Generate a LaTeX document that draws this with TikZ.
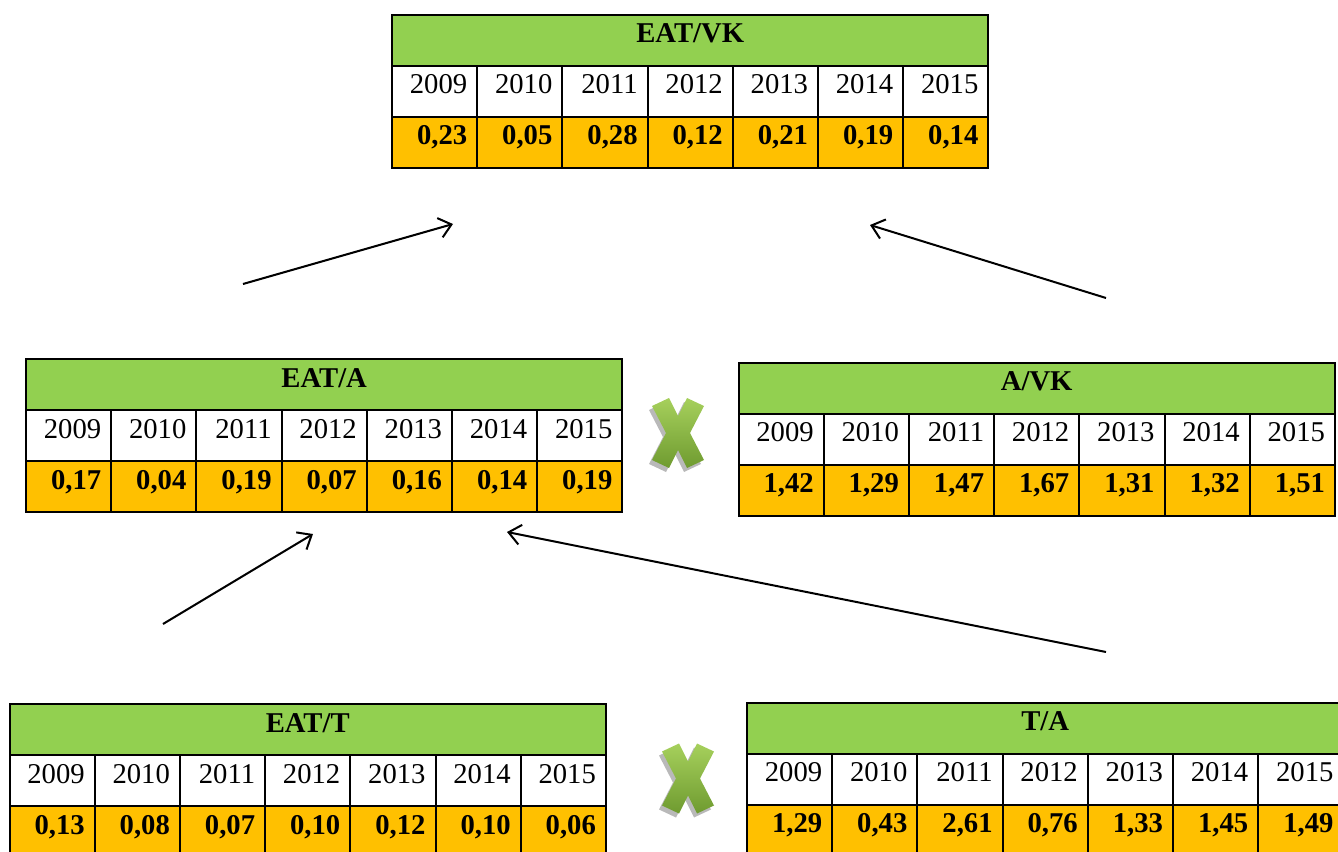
\documentclass[tikz,border=0pt]{standalone}
\usepackage{fontspec}
\setmainfont{Liberation Serif}
\usetikzlibrary{arrows.meta}

\definecolor{hdrgreen}{HTML}{92D050}
\definecolor{valorange}{HTML}{FFC000}
\definecolor{xlight}{HTML}{A6D05C}
\definecolor{xdark}{HTML}{6F9B30}

% one ratio table: name, x, y (top left, px), title, values
\newcommand{\ratiotab}[5]{%
  \node[hdr] (#1) at (#2,#3) {#4};
  \foreach \yr [count=\i] in {2009,...,2015}
    \node[yr] (#1-y\i) at ({#2+85.2*(\i-1)},{#3+51}) {\yr};
  \foreach \u/\d [count=\i] in {#5}
    \node[val] (#1-v\i) at ({#2+85.2*(\i-1)},{#3+102}) {\u,\d};
}
\newcommand{\crosspath}{(-26,-27) -- (-9,-35) -- (0,-17) -- (9,-35) -- (26,-27) -- (12,0)
  -- (26,27) -- (9,35) -- (0,17) -- (-9,35) -- (-26,27) -- (-12,0) -- cycle}

\tikzset{
  cell/.style={draw, line width=1.5pt, outer sep=0pt, inner sep=0pt, anchor=north west,
    minimum width=63.9pt, minimum height=38.25pt, text height=12pt, text depth=8.25pt,
    font=\fontsize{21.5}{24}\selectfont},
  hdr/.style={cell, fill=hdrgreen, minimum width=447.3pt, font=\fontsize{21.5}{24}\selectfont\bfseries},
  yr/.style={cell, fill=white, text width=48.9pt, align=right},
  val/.style={yr, fill=valorange, font=\fontsize{21.5}{24}\selectfont\bfseries},
  link/.style={-{Straight Barb[length=9pt,width=15pt]}, line width=1.5pt},
  crossmark/.pic={
    \fill[gray!55, shift={(-3,4)}] \crosspath;
    \shade[top color=xlight, bottom color=xdark] \crosspath;
  }
}

\begin{document}
\begin{tikzpicture}[x=0.75pt, y=-0.75pt]
  \useasboundingbox (0,0) rectangle (1338,852);
  \clip (0,0) rectangle (1338,852);

  \ratiotab{vk}{392}{15}{EAT/VK}{0/23,0/05,0/28,0/12,0/21,0/19,0/14}
  \ratiotab{eata}{26}{359}{EAT/A}{0/17,0/04,0/19,0/07,0/16,0/14,0/19}
  \ratiotab{avk}{738.5}{362.5}{A/VK}{1/42,1/29,1/47,1/67,1/31,1/32,1/51}
  \ratiotab{eatt}{9.5}{704}{EAT/T}{0/13,0/08,0/07,0/10,0/12,0/10,0/06}
  \ratiotab{ta}{747}{702.5}{T/A}{1/29,0/43,2/61,0/76,1/33,1/45,1/49}

  \pic at (678,433) {crossmark};
  \pic at (688,778.5) {crossmark};

  % arrows
  \coordinate (eata-out) at (243,284);
  \coordinate (vk-inl) at (453,224);
  \coordinate (avk-out) at (1106,298);
  \coordinate (vk-inr) at (870,225);
  \coordinate (eatt-out) at (163,624);
  \coordinate (eata-inl) at (313,534);
  \coordinate (ta-out) at (1106,652);
  \coordinate (eata-inr) at (507,532);
  \draw[link] (eata-out) -- (vk-inl);
  \draw[link] (avk-out) -- (vk-inr);
  \draw[link] (eatt-out) -- (eata-inl);
  \draw[link] (ta-out) -- (eata-inr);
\end{tikzpicture}
\end{document}
